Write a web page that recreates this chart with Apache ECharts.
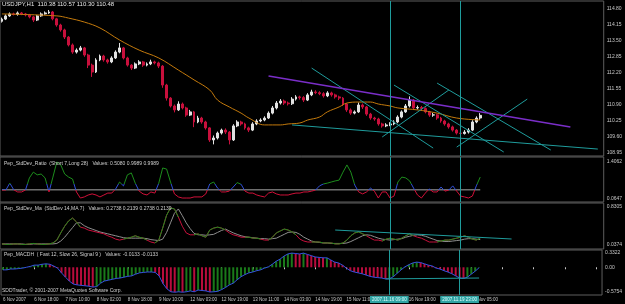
<!DOCTYPE html>
<html lang="en">
  <head>
    <meta charset="UTF-8" />
    <title>USDJPY,H1</title>
    <style>
      html, body { margin: 0; width: 100%; height: 100%; background: #000; }
      #chart { width: 625px; height: 304px; }
    </style>
    <script src="https://cdn.jsdelivr.net/npm/echarts@6/dist/echarts.min.js"></script>
  </head>
  <body>
    <div id="chart"></div>
    <script>
      // USDJPY H1 candles (two hours per slot), open = previous close
      const firstOpen = 114.30
      const closes = [114.39,114.52,114.60,114.58,114.64,114.60,114.56,114.48,114.35,114.52,
        114.60,114.64,114.68,114.40,114.15,113.95,113.66,113.34,113.05,113.13,
        113.22,112.93,112.52,112.24,112.73,112.89,112.73,112.65,112.81,113.05,
        113.22,112.81,112.52,112.40,112.57,112.65,112.52,112.57,112.65,112.61,
        112.48,111.71,111.18,110.86,110.70,110.94,110.78,110.49,110.62,110.21,
        110.37,110.21,109.97,109.48,109.56,109.76,109.88,109.80,109.48,110.05,
        110.21,110.13,109.97,109.88,110.13,110.25,110.29,110.37,110.57,110.78,
        110.98,111.06,110.98,110.95,111.14,111.23,111.20,111.10,111.31,111.43,
        111.40,111.36,111.27,111.39,111.31,111.23,111.18,110.94,110.70,110.57,
        110.62,110.90,110.82,110.53,110.37,110.33,110.13,110.05,110.09,110.13,
        110.21,110.41,110.62,110.86,111.10,110.78,110.80,110.76,110.62,110.49,
        110.50,110.37,110.25,110.13,110.01,109.88,109.76,109.74,109.80,109.88,
        110.21,110.37,110.48]
      const highs = [114.45,114.58,114.66,114.65,114.70,114.68,114.64,114.60,114.52,114.56,
        114.66,114.70,114.76,114.72,114.44,114.20,114.00,113.70,113.40,113.20,
        113.30,113.26,112.98,112.58,112.80,112.95,112.94,112.78,112.88,113.12,
        113.42,113.26,112.86,112.56,112.63,112.72,112.69,112.63,112.74,112.70,
        112.66,112.52,111.76,111.22,110.92,111.05,111.00,110.83,110.70,110.66,
        110.46,110.42,110.26,110.00,109.66,109.82,109.94,109.95,109.84,110.12,
        110.28,110.26,110.18,110.02,110.20,110.32,110.36,110.44,110.64,110.86,
        111.06,111.14,111.12,111.04,111.22,111.30,111.28,111.26,111.38,111.52,
        111.50,111.46,111.42,111.46,111.44,111.36,111.28,111.22,110.98,110.76,
        110.68,111.00,110.96,110.86,110.58,110.42,110.38,110.18,110.16,110.20,
        110.28,110.48,110.68,110.94,111.25,111.14,110.88,110.86,110.80,110.66,
        110.58,110.54,110.42,110.30,110.18,110.06,109.92,109.82,109.88,109.96,
        110.28,110.44,110.57]
      const lows = [114.25,114.35,114.48,114.54,114.53,114.55,114.50,114.42,114.27,114.31,
        114.48,114.57,114.60,114.34,114.08,113.88,113.58,113.28,112.98,112.99,
        113.08,112.86,112.40,112.04,112.20,112.68,112.66,112.58,112.60,112.77,
        113.00,112.75,112.46,112.32,112.36,112.52,112.45,112.47,112.52,112.55,
        112.40,111.60,111.08,110.80,110.60,110.66,110.72,110.42,110.45,110.00,
        110.16,110.14,109.90,109.40,109.30,109.50,109.70,109.72,109.30,109.44,
        110.00,110.06,109.90,109.80,109.84,110.08,110.20,110.24,110.33,110.52,
        110.72,110.92,110.90,110.88,110.90,111.08,111.12,111.02,111.06,111.26,
        111.34,111.30,111.20,111.22,111.24,111.16,111.10,110.86,110.62,110.50,
        110.52,110.58,110.74,110.46,110.30,110.26,110.06,109.98,110.00,110.04,
        110.08,110.16,110.36,110.58,110.80,110.72,110.72,110.70,110.56,110.42,
        110.42,110.30,110.18,110.06,109.94,109.82,109.70,109.68,109.70,109.74,
        109.84,110.16,110.30]
      // moving average, read at [slot, price]
      const maPoints = [[0,114.60],[14,114.52],[17,114.43],[21,114.27],[25,114.03],[30,113.54],
        [35,113.13],[40,112.81],[45,112.32],[49,111.92],[53,111.51],[55,111.10],[58,110.82],
        [61,110.57],[63,110.37],[67,110.09],[71,110.09],[73,110.13],[76,110.17],[78,110.29],
        [81,110.41],[83,110.62],[86,110.82],[88,110.98],[91,111.02],[94,111.02],[96,110.94],
        [99,110.86],[101,110.78],[106,110.70],[111,110.57],[116,110.37],[122,110.29]]

      const ratio = [0.39,0.39,0.64,0.40,0.32,0.32,0.39,0.83,1.04,0.94,
        0.97,0.83,0.32,0.86,1.41,1.30,0.97,0.86,0.79,0.32,
        0.10,0.14,0.21,0.25,0.21,0.14,0.21,0.28,0.28,0.43,
        0.68,0.54,0.94,1.01,0.64,0.35,0.25,0.21,0.32,0.28,
        0.64,1.19,1.15,0.68,0.25,0.14,0.10,0.10,0.10,0.14,
        0.14,0.14,0.25,0.61,0.68,0.46,0.32,0.32,0.35,0.50,
        0.66,0.60,0.35,0.28,0.28,0.21,0.17,0.14,0.28,0.32,
        0.25,0.21,0.21,0.21,0.25,0.28,0.28,0.32,0.32,0.35,
        0.39,0.54,0.61,0.64,0.68,0.72,0.75,1.04,1.30,1.04,
        0.57,0.32,0.25,0.32,0.46,0.35,0.10,0.32,0.32,0.10,
        0.17,0.68,0.86,0.83,0.72,0.46,0.21,0.10,0.28,0.43,
        0.32,0.32,0.50,0.35,0.39,0.54,0.35,0.17,0.14,0.10,
        0.17,0.54,0.86]
      const ratioLevel = 0.40

      const stdDev = [0.06,0.05,0.05,0.06,0.06,0.05,0.05,0.06,0.07,0.06,
        0.05,0.05,0.06,0.08,0.14,0.29,0.43,0.54,0.60,0.52,
        0.41,0.39,0.35,0.33,0.31,0.29,0.27,0.23,0.20,0.16,
        0.14,0.16,0.18,0.20,0.23,0.20,0.18,0.14,0.10,0.08,
        0.14,0.39,0.66,0.81,0.79,0.62,0.43,0.29,0.25,0.25,
        0.27,0.23,0.20,0.35,0.39,0.41,0.39,0.35,0.29,0.25,
        0.23,0.20,0.20,0.20,0.18,0.18,0.16,0.14,0.14,0.20,
        0.29,0.33,0.37,0.35,0.31,0.25,0.16,0.12,0.10,0.10,
        0.10,0.10,0.08,0.08,0.08,0.06,0.06,0.08,0.14,0.23,
        0.29,0.31,0.27,0.23,0.18,0.14,0.14,0.12,0.16,0.18,
        0.16,0.14,0.18,0.23,0.27,0.23,0.20,0.18,0.14,0.10,
        0.10,0.10,0.12,0.14,0.14,0.16,0.18,0.20,0.23,0.20,
        0.16,0.14,0.18]
      const stdMa = [0.06,0.06,0.06,0.06,0.06,0.06,0.05,0.05,0.06,0.06,
        0.06,0.06,0.06,0.06,0.07,0.12,0.20,0.30,0.40,0.50,
        0.50,0.44,0.40,0.37,0.34,0.31,0.29,0.27,0.25,0.23,
        0.21,0.19,0.18,0.18,0.18,0.18,0.18,0.17,0.15,0.14,
        0.13,0.16,0.30,0.50,0.70,0.79,0.65,0.50,0.38,0.28,
        0.25,0.25,0.24,0.25,0.26,0.30,0.34,0.37,0.33,0.29,
        0.26,0.23,0.21,0.20,0.19,0.18,0.17,0.17,0.16,0.17,
        0.18,0.22,0.26,0.30,0.31,0.30,0.26,0.20,0.16,0.12,
        0.10,0.09,0.08,0.08,0.07,0.07,0.07,0.07,0.08,0.11,
        0.15,0.19,0.23,0.25,0.24,0.21,0.18,0.16,0.15,0.14,
        0.15,0.16,0.17,0.20,0.22,0.24,0.25,0.24,0.22,0.19,
        0.16,0.13,0.12,0.11,0.11,0.12,0.13,0.14,0.16,0.17,
        0.17,0.16,0.15]

      const macd = [-0.06,-0.06,-0.04,-0.04,-0.03,-0.02,0.00,0.02,0.05,0.05,
        0.07,0.08,0.07,0.03,-0.02,-0.13,-0.23,-0.32,-0.39,-0.41,
        -0.42,-0.43,-0.44,-0.46,-0.45,-0.37,-0.32,-0.30,-0.28,-0.26,
        -0.25,-0.23,-0.21,-0.20,-0.16,-0.13,-0.12,-0.11,-0.11,-0.12,
        -0.20,-0.38,-0.50,-0.57,-0.58,-0.57,-0.58,-0.57,-0.55,-0.57,
        -0.53,-0.54,-0.55,-0.575,-0.57,-0.56,-0.52,-0.47,-0.41,-0.37,
        -0.29,-0.22,-0.17,-0.13,-0.11,-0.08,-0.06,-0.02,0.01,0.07,
        0.14,0.19,0.26,0.31,0.33,0.32,0.31,0.33,0.30,0.27,
        0.24,0.23,0.22,0.22,0.17,0.12,0.10,0.05,-0.02,-0.08,
        -0.11,-0.13,-0.15,-0.18,-0.21,-0.23,-0.24,-0.25,-0.27,-0.27,
        -0.22,-0.14,-0.06,0.01,0.06,0.10,0.12,0.11,0.08,0.05,
        0.03,-0.02,-0.04,-0.08,-0.11,-0.15,-0.20,-0.25,-0.26,-0.23,
        -0.16,-0.09,-0.01]

      // time scale: one label every 8 slots
      const slots = 154
      const timeLabels = ['6 Nov 2007', '6 Nov 18:00', '7 Nov 10:00', '8 Nov 02:00', '8 Nov 18:00',
        '9 Nov 10:00', '12 Nov 03:00', '12 Nov 19:00', '13 Nov 11:00', '14 Nov 03:00',
        '14 Nov 19:00', '15 Nov 11:00', '16 Nov 03:00', '16 Nov 19:00', '19 Nov 13:00', '20 Nov 05:00']
      const cursorSlots = [99, 117]
      const cursorLabels = ['2007.11.16 09:00', '2007.11.19 23:00']

      const priceTicks = [114.80, 114.15, 113.50, 112.85, 112.20, 111.55, 110.90, 110.25, 109.60, 108.95]
      const ratioTicks = [1.4062, 0.0647]
      const stdTicks = [0.8305, 0.0374]
      const macdTicks = [0.3322, 0, -0.5754]

      // drawn trend lines: [[slot, value], [slot, value]]
      const purpleTrends = [[[68, 112.08], [145, 110.01]]]
      const tealTrends = [
        [[74, 110.09], [152, 109.11]],
        [[79, 112.40], [110, 109.15]],
        [[100, 111.71], [128, 108.99]],
        [[111, 111.79], [140, 109.07]],
        [[97, 109.60], [114, 111.51]],
        [[116, 109.19], [134, 111.14]]
      ]
      const stdTrends = [[[85, 0.35], [130, 0.163]]]
      const macdTrends = [[[98, -0.27], [122, -0.25]]]

      const cats = Array.from({ length: slots }, (_, i) => String(i))
      const candles = closes.map((c, i) => [i ? closes[i - 1] : firstOpen, c, lows[i], highs[i]])
      const lastClose = closes[closes.length - 1]

      // stddev line is green where it runs above its average
      const stdGreen = stdDev.map((v, i) => {
        const up = j => j >= 0 && j < stdDev.length && stdDev[j] >= stdMa[j]
        return up(i) || up(i - 1) || up(i + 1) ? v : null
      })

      const txt = '#c8c8c8'
      const font = 'Liberation Sans'
      const teal = '#1f9c9c'

      const trendData = lines => lines.map(l => [{ coord: l[0] }, { coord: l[1] }])
      const cursorLine = withLabel => ({
        silent: true,
        symbol: ['none', 'none'],
        lineStyle: { color: teal, width: 1, type: 'solid' },
        label: withLabel
          ? {
              show: true,
              position: 'start',
              distance: 1,
              formatter: p => cursorLabels[cursorSlots.indexOf(Number(p.value))] || cursorLabels[p.dataIndex],
              backgroundColor: '#30a4a4',
              color: '#dff',
              fontSize: 4.5,
              fontFamily: font,
              padding: [1, 2]
            }
          : { show: false },
        data: cursorSlots.map(s => ({ xAxis: s }))
      })

      const grids = [
        { top: 1, height: 155 },
        { top: 157, height: 45 },
        { top: 203, height: 46 },
        { top: 250, height: 45 }
      ].map(g => Object.assign({ left: -1, right: 19, show: true, borderColor: '#5e5e5e', borderWidth: 1 }, g))

      const xAxes = grids.map((g, i) => ({
        type: 'category',
        gridIndex: i,
        data: cats,
        boundaryGap: true,
        axisLine: { show: false },
        axisTick: i === 3
          ? { show: true, alignWithLabel: true, interval: 7, length: 2, lineStyle: { color: txt } }
          : { show: false },
        axisLabel: i === 3
          ? {
              show: true,
              interval: 7,
              align: 'left',
              margin: 2,
              color: txt,
              fontSize: 4.5,
              fontFamily: font,
              formatter: (v, idx) => timeLabels[idx / 8] || ''
            }
          : { show: false },
        splitLine: { show: false }
      }))

      const yAxis = (i, min, max, ticks, fmt) => ({
        type: 'value',
        gridIndex: i,
        position: 'right',
        min,
        max,
        scale: true,
        axisLine: { show: false },
        axisTick: { show: false },
        splitLine: { show: false },
        axisLabel: {
          customValues: ticks,
          formatter: fmt,
          color: txt,
          fontSize: 5,
          fontFamily: font,
          margin: 3
        }
      })

      const titleStyle = { color: '#d0d0d0', fontSize: 5, fontWeight: 'normal', fontFamily: font }

      const chart = echarts.init(document.getElementById('chart'))
      chart.setOption({
        backgroundColor: '#000',
        animation: false,
        title: [
          { text: 'USDJPY,H1  110.38 110.57 110.30 110.48', left: 2, top: 1, padding: 0, textStyle: Object.assign({}, titleStyle, { fontSize: 6, color: '#e8e8e8' }) },
          { text: 'Pep_StdDev_Ratio  (Short 7,Long 28)   Values: 0.5080 0.9989 0.9989', left: 4, top: 161, padding: 0, textStyle: titleStyle },
          { text: 'Pep_StdDev_Ma  (StdDev 14,MA 7)   Values: 0.2738 0.2139 0.2738 0.2139', left: 4, top: 206, padding: 0, textStyle: titleStyle },
          { text: 'Pep_MACDH  ( Fast 12, Slow 26, Signal 9 )   Values: -0.0133 -0.0133', left: 4, top: 252, padding: 0, textStyle: titleStyle },
          { text: 'SDDTrader, © 2001-2007 MetaQuotes Software Corp.', left: 2, top: 288, padding: 0, textStyle: titleStyle }
        ],
        grid: grids,
        xAxis: xAxes,
        yAxis: [
          yAxis(0, 108.828, 115.125, priceTicks, v => v.toFixed(2)),
          yAxis(1, -0.044, 1.5875, ratioTicks, v => v.toFixed(4)),
          yAxis(2, -0.046, 0.914, stdTicks, v => v.toFixed(4)),
          yAxis(3, -0.645, 0.402, macdTicks, v => (v === 0 ? '0.00' : v.toFixed(4)))
        ],
        visualMap: {
          type: 'piecewise',
          show: false,
          seriesIndex: 3,
          dimension: 1,
          pieces: [
            { lt: 0.40, color: '#d01038' },
            { gte: 0.40, lt: 0.62, color: '#2f4fd8' },
            { gte: 0.62, color: '#1c8c1c' }
          ]
        },
        series: [
          {
            type: 'candlestick',
            xAxisIndex: 0,
            yAxisIndex: 0,
            barWidth: 2.4,
            data: candles,
            itemStyle: { color: '#e2e2e2', color0: '#c8103c', borderColor: '#e2e2e2', borderColor0: '#c8103c', borderWidth: 1 },
            markLine: {
              silent: true,
              symbol: ['none', 'none'],
              lineStyle: { opacity: 0 },
              label: {
                show: true,
                position: 'end',
                distance: 1,
                formatter: () => lastClose.toFixed(2),
                backgroundColor: '#8c8c8c',
                color: '#111',
                fontSize: 5,
                fontFamily: font,
                padding: [1, 2]
              },
              data: [{ yAxis: lastClose }]
            }
          },
          {
            type: 'line',
            xAxisIndex: 0,
            yAxisIndex: 0,
            data: maPoints,
            smooth: 0.4,
            symbol: 'none',
            lineStyle: { color: '#c47a0c', width: 1 },
            markLine: {
              silent: true,
              symbol: ['none', 'none'],
              label: { show: false },
              lineStyle: { color: teal, width: 1, type: 'solid' },
              data: trendData(tealTrends).concat(
                trendData(purpleTrends).map(d => [d[0], Object.assign({}, d[1], { lineStyle: { color: '#7a2ec8', width: 1.5 } })])
              )
            }
          },
          {
            type: 'line',
            xAxisIndex: 0,
            yAxisIndex: 0,
            data: [],
            markLine: cursorLine(false)
          },
          {
            type: 'line',
            xAxisIndex: 1,
            yAxisIndex: 1,
            data: ratio,
            symbol: 'none',
            lineStyle: { width: 1 },
            markLine: cursorLine(false)
          },
          {
            type: 'line',
            xAxisIndex: 1,
            yAxisIndex: 1,
            data: ratio.map(() => ratioLevel),
            symbol: 'none',
            z: 1,
            lineStyle: { color: '#6e6e6e', width: 1.5 }
          },
          {
            type: 'line',
            xAxisIndex: 2,
            yAxisIndex: 2,
            data: stdMa,
            symbol: 'none',
            lineStyle: { color: '#8e8e8e', width: 1 },
            markLine: {
              silent: true,
              symbol: ['none', 'none'],
              label: { show: false },
              lineStyle: { color: teal, width: 1, type: 'solid' },
              data: trendData(stdTrends).concat(cursorLine(false).data)
            }
          },
          {
            type: 'line',
            xAxisIndex: 2,
            yAxisIndex: 2,
            data: stdDev,
            symbol: 'none',
            lineStyle: { color: '#c8103c', width: 1 }
          },
          {
            type: 'line',
            xAxisIndex: 2,
            yAxisIndex: 2,
            data: stdGreen,
            symbol: 'none',
            lineStyle: { color: '#1c8c1c', width: 1 }
          },
          {
            type: 'bar',
            xAxisIndex: 3,
            yAxisIndex: 3,
            barWidth: 2,
            data: macd.map((v, i) => ({
              value: v,
              itemStyle: { color: i && v < macd[i - 1] ? '#b80c3c' : '#1a7a1a' }
            }))
          },
          {
            type: 'line',
            xAxisIndex: 3,
            yAxisIndex: 3,
            data: macd,
            symbol: 'none',
            lineStyle: { color: '#3452e0', width: 1 },
            markLine: {
              silent: true,
              symbol: ['none', 'none'],
              label: { show: false },
              lineStyle: { color: teal, width: 1, type: 'solid' },
              data: trendData(macdTrends)
            }
          },
          {
            type: 'line',
            xAxisIndex: 3,
            yAxisIndex: 3,
            data: [],
            markLine: cursorLine(true)
          }
        ]
      })
    </script>
  </body>
</html>
